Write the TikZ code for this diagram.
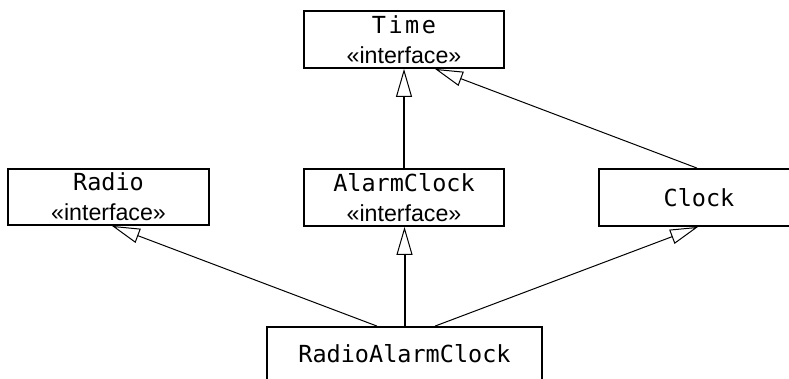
\documentclass[tikz,border=0pt]{standalone}
\usepackage{fontspec}
\setmainfont{Liberation Sans}
\newfontfamily\monofam{DejaVu Sans Mono}
\usetikzlibrary{arrows.meta}
\tikzset{
  classbox/.style={draw, line width=1.8pt, inner sep=0pt, align=center,
    font=\fontsize{23.5}{30}\selectfont},
  gen/.style={line width=1pt, -{Triangle[open, length=28pt, width=15pt, line width=1pt]}},
  genthick/.style={line width=2pt, -{Triangle[open, length=28pt, width=16pt, line width=1pt]}},
}
\newcommand{\cname}[1]{{\monofam #1}}
\newcommand{\stereo}{{\fontsize{23.2}{30}\selectfont «interface»}}
\begin{document}
\begin{tikzpicture}[x=1pt,y=-1pt]
\useasboundingbox (0,0) rectangle (789,379);
\clip (0,0) rectangle (789,379);
\node[classbox, minimum width=200pt, minimum height=57pt] (time) at (404,39.5) {\cname{T\hspace{2.5pt}i\hspace{2.5pt}m\hspace{2.5pt}e}\\\stereo};
\node[classbox, minimum width=201pt, minimum height=56pt] (radio) at (108.5,197) {\cname{Radio}\\\stereo};
\node[classbox, minimum width=200pt, minimum height=57pt] (alarm) at (404,197.5) {\cname{AlarmClock}\\\stereo};
\node[classbox, minimum width=200pt, minimum height=57pt] (clock) at (699,197.5) {\cname{Clock}};
\node[classbox, minimum width=275pt, minimum height=53pt] (rac) at (404.5,353.5) {\cname{RadioAlarmClock}};
\draw[genthick] (alarm.north) -- (time.south);
\draw[gen] ([xshift=-2pt]clock.north) -- ([xshift=31pt]time.south);
\draw[genthick] (rac.north) -- (rac.north |- alarm.south);
\draw[gen] ([xshift=-27.5pt]rac.north) -- ([xshift=3.5pt]radio.south);
\draw[gen] ([xshift=30.5pt]rac.north) -- ([xshift=-1pt]clock.south);
\end{tikzpicture}
\end{document}
